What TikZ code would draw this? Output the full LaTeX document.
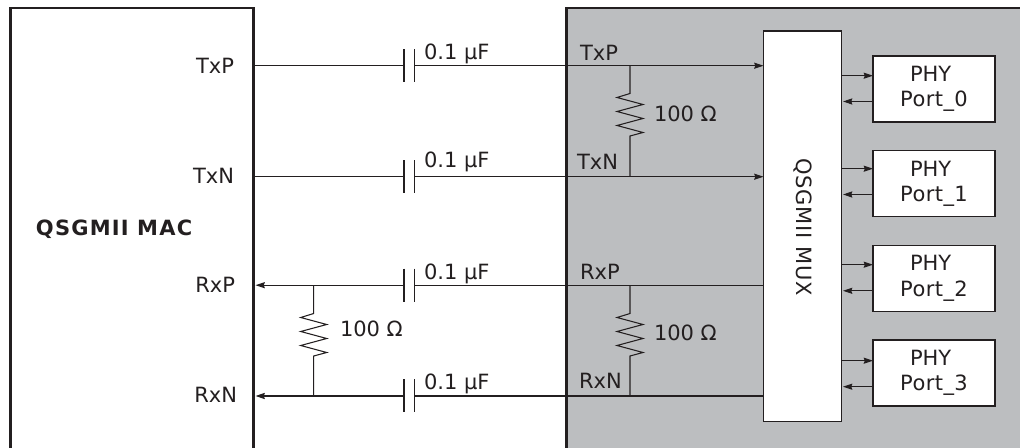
\documentclass[tikz,border=0pt]{standalone}
\usepackage{fontspec}
\setmainfont{DejaVu Sans}
\usetikzlibrary{arrows.meta}
\definecolor{ink}{HTML}{231F20}
\definecolor{panel}{HTML}{BCBEC0}
\newcommand{\wideport}[1]{{\addfontfeature{LetterSpace=2}#1}}
\tikzset{
  x=0.75pt,y=-0.75pt,
  every node/.style={font=\fontsize{15.75pt}{19.2pt}\selectfont,text=ink,inner sep=0pt,outer sep=0pt},
  edge/.style={draw=ink,line width=0.8pt},
  plate/.style={draw=ink,line width=0.9pt},
  frame/.style={draw=ink,line width=2pt},
  sig/.style={edge,-{Stealth[length=7pt,width=4.6pt,inset=0.8pt]}},
  whitebox/.style={draw=ink,line width=0.9pt,fill=white,anchor=north west},
  phybox/.style={whitebox,minimum width=91.5pt,minimum height=49.5pt,align=center},
  lab/.style={anchor=base west},
  labr/.style={anchor=base east},
}
\newcommand{\capacitor}[4]{% name, x, y, unused
  \coordinate (#1a) at (#2,#3);
  \coordinate (#1b) at (#2+10.5,#3);
  \draw[plate] (#2,#3-16.5) -- (#2,#3+16.5);
  \draw[plate] (#2+10.5,#3-16.5) -- (#2+10.5,#3+16.5);
}
\newcommand{\resistor}[3]{% top junction, bottom junction, top of zigzag
  \draw[edge,line join=miter] (#1) -- (#3)
    -- ++(-13,4) -- ++(26,7) -- ++(-26,7) -- ++(26,7) -- ++(-26,7) -- ++(26,7) -- ++(-13,3.5)
    -- (#2);
}
\begin{document}
\begin{tikzpicture}
\useasboundingbox (0,0) rectangle (1020,448);
% panels
\fill[panel] (566.7,8) rectangle (1020,448);
\draw[frame] (10.7,448) -- (10.7,8) -- (253.2,8) -- (253.2,448);
\draw[frame] (566.7,448) -- (566.7,8) -- (1020,8);
% end points on the MAC frame
\coordinate (mtxp) at (254,65.7);
\coordinate (mtxn) at (254,176.7);
\coordinate (mrxp) at (255.5,285.2);
\coordinate (mrxn) at (255.5,396);
% blocks
\node[whitebox,minimum width=58.5pt,minimum height=293pt] (mux) at (763.5,31) {};
\node[rotate=-90] (muxt) at (803,227) {\addfontfeature{LetterSpace=3.8}QSGMII MUX};
\node[phybox] (phy0) at (873,56) {PHY\hspace*{5pt}\\\wideport{Port\_0}};
\node[phybox] (phy1) at (873,150.7) {PHY\hspace*{5pt}\\\wideport{Port\_1}};
\node[phybox] (phy2) at (873,245.5) {PHY\hspace*{5pt}\\\wideport{Port\_2}};
\node[phybox] (phy3) at (873,340) {PHY\hspace*{5pt}\\\wideport{Port\_3}};
% capacitors
\capacitor{c1}{404}{65.7}{}
\capacitor{c2}{404}{176.7}{}
\capacitor{c3}{404}{285.2}{}
\capacitor{c4}{404}{396}{}
% signal lines
\draw[edge] (mtxp) -- (c1a);
\draw[edge] (mtxn) -- (c2a);
\draw[sig] (c1b) -- (mux.west |- c1b);
\draw[sig] (c2b) -- (mux.west |- c2b);
\draw[edge] (c3b) -- (mux.west |- c3b);
\draw[edge] (c4b) -- (mux.west |- c4b);
\draw[sig] (c3a) -- (mrxp);
\draw[sig] (c4a) -- (mrxn);
% resistors
\coordinate (jt1) at (630,65.7); \coordinate (jt2) at (630,176.7);
\coordinate (jr1) at (630,285.2);  \coordinate (jr2) at (630,396);
\coordinate (jm1) at (313.7,285.2); \coordinate (jm2) at (313.7,396);
\coordinate (zt) at (630,93.5); \coordinate (zr) at (630,313.5); \coordinate (zm) at (313.7,313.5);
\resistor{jt1}{jt2}{zt}
\resistor{jr1}{jr2}{zr}
\resistor{jm1}{jm2}{zm}
% MUX <-> PHY arrows
\foreach \n/\o/\i in {0/75.7/101.5,1/168.7/194.5,2/264.7/290.8,3/360.7/386.7}{
  \coordinate (po\n) at (841.5,\o);
  \coordinate (pi\n) at (843,\i);
  \draw[sig] (po\n) -- (phy\n.west |- po\n);
  \draw[sig] (phy\n.west |- pi\n) -- (pi\n);
}
% labels
\node[labr] (ltxp) at (234,74) {TxP};
\node[labr] (ltxn) at (234,184) {TxN};
\node[labr] (lrxp) at (235,292.7) {RxP};
\node[labr] (lrxn) at (237,402.5) {RxN};
\node[anchor=base west,font=\fontsize{15.75pt}{19.2pt}\bfseries\addfontfeature{LetterSpace=5.7}] (macl) at (36,236) {QSGMII MAC};
\node[lab] (rtxp) at (580,61) {TxP};
\node[lab] (rtxn) at (577,170) {TxN};
\node[lab] (rrxp) at (580,280) {RxP};
\node[lab] (rrxn) at (579,389) {RxN};
\node[lab] (uf1) at (424,60) {0.1 µF};
\node[lab] (uf2) at (424,168) {0.1 µF};
\node[lab] (uf3) at (424,280) {0.1 µF};
\node[lab] (uf4) at (424,389.3) {0.1 µF};
\node[lab] (r1) at (654,122) {100 Ω};
\node[lab] (r2) at (340,336.7) {100 Ω};
\node[lab] (r3) at (654,341) {100 Ω};
\end{tikzpicture}
\end{document}
